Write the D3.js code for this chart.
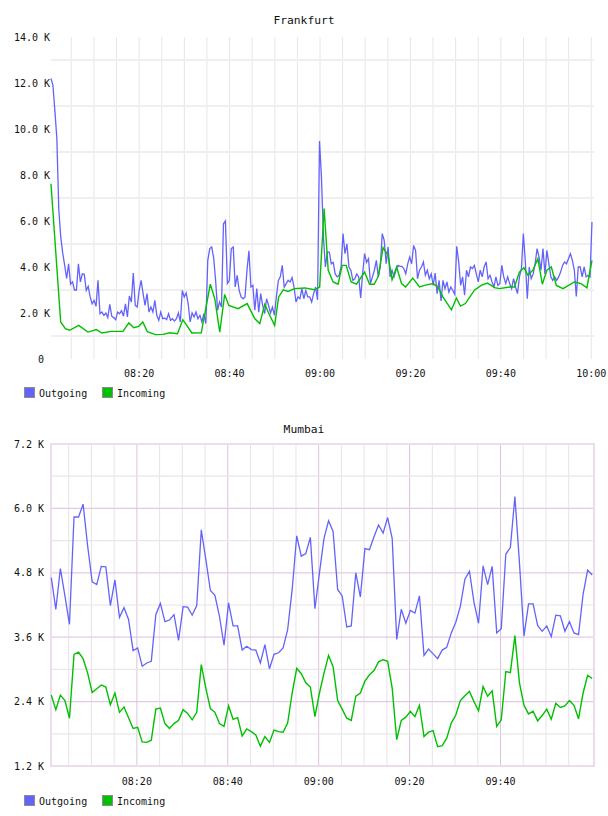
<!DOCTYPE html>
<html>
<head>
<meta charset="utf-8">
<script src="https://cdn.jsdelivr.net/npm/d3@7"></script>
<style>
  body { margin: 0; background: #fff; }
  text { font-family: "DejaVu Sans Mono", monospace; fill: #111; }
</style>
</head>
<body>
<svg id="chart" width="608" height="816"></svg>
<script>
// values in K (thousands), times in minutes after 08:00
var seriesNames = ["Outgoing", "Incoming"];

var frkOut = [12.2, 11.9, 10.8, 9.6, 6.5, 5.3, 4.6, 4.07, 3.5, 4.14,
  3.25, 3.35, 3.0, 3.0, 4.14, 3.35, 3.7, 3.68, 2.98, 3.16,
  2.7, 2.4, 2.55, 2.29, 3.42, 1.97, 2.04, 1.9, 2.0, 1.8,
  2.38, 1.86, 1.8, 1.71, 2.04, 1.97, 2.1, 1.86, 2.4, 1.83,
  2.74, 2.48, 3.74, 2.33, 2.26, 2.98, 3.42, 2.84, 2.33, 2.84,
  2.04, 2.26, 2.04, 2.55, 1.9, 1.68, 2.04, 1.75, 1.78, 1.71,
  1.97, 1.68, 1.75, 1.65, 1.75, 2.0, 1.61, 2.98, 2.7, 2.87,
  2.4, 1.61, 2.0, 1.83, 2.04, 1.75, 1.9, 1.61, 1.97, 1.54,
  4.29, 4.8, 4.87, 4.4, 3.42, 2.12, 2.48, 2.26, 5.88, 6.0,
  3.28, 3.42, 4.8, 4.87, 3.13, 3.64, 2.98, 2.7, 2.62, 2.7,
  3.86, 4.7, 3.13, 3.2, 2.12, 3.06, 2.04, 2.84, 2.33, 1.97,
  2.62, 2.33, 2.0, 2.26, 1.9, 2.7, 3.42, 3.57, 4.07, 3.13,
  3.28, 3.42, 3.35, 3.54, 3.13, 2.48, 2.7, 2.62, 3.06, 2.62,
  2.98, 2.7, 2.7, 2.48, 2.84, 3.13, 2.57,
  9.48, 7.9, 5.3, 4.0, 4.65, 4.65, 4.14, 4.2, 3.7, 3.57,
  3.64, 4.0, 5.45, 4.58, 5.0, 4.0, 3.86, 3.42, 3.49, 3.7,
  3.57, 2.65, 3.7, 4.58, 4.2, 4.36, 3.28, 3.57, 3.86, 4.29,
  3.57, 4.0, 5.45, 5.16, 4.14, 4.87, 3.57, 3.86, 3.57, 3.86,
  4.07, 4.03, 4.03, 3.93, 3.7, 4.14, 4.43, 4.14, 4.94, 4.72,
  3.49, 3.86, 4.0, 4.22, 3.64, 3.86, 3.49, 3.7, 3.2, 3.74,
  2.84, 3.42, 2.52, 3.42, 3.06, 3.35, 2.91, 3.13, 2.98, 2.81,
  4.9, 4.22, 3.2, 3.57, 2.77, 3.86, 3.57, 4.0, 3.93, 4.07,
  3.7, 3.35, 3.86, 3.57, 4.0, 4.22, 3.49, 3.64, 3.35, 3.13,
  3.57, 3.2, 3.28, 4.07, 3.57, 3.28, 3.57, 3.28, 3.06, 3.49,
  3.13, 2.84, 3.57, 3.93, 5.45, 4.22, 2.62, 4.0, 3.49, 3.7,
  4.14, 4.8, 4.43, 3.86, 4.8, 3.7, 4.72, 4.14, 3.57, 3.42,
  3.57, 3.42, 3.57, 3.78, 4.07, 4.22, 4.14, 4.36, 4.58, 4.29,
  3.86, 2.72, 4.0, 4.0, 3.57, 4.0, 3.57, 3.64, 3.57, 5.96];
var frkOutStart = 0.5, frkOutEnd = 120.15;

var frkInMinutes = [0.5, 2.65, 3.69, 4.64, 6.63, 8.67, 10.56, 11.75, 13.84, 16.43,
  17.72, 18.82, 19.91, 20.81, 21.8, 23.6, 25.29, 26.78, 28.47, 29.67,
  31.66, 33.74, 35.74, 36.73, 37.83, 38.92, 39.82, 41.9, 43.89, 45.59,
  46.68, 47.78, 48.87, 49.97, 50.86, 51.86, 52.95, 54.35, 56.63, 58.82,
  59.92, 60.91, 61.81, 62.9, 64.0, 64.9, 65.79, 66.88, 68.08, 69.87,
  70.96, 71.96, 72.86, 73.95, 75.05, 75.94, 76.94, 78.03, 78.93, 80.52,
  82.01, 83.11, 84.99, 86.09, 87.18, 89.07, 90.17, 91.06, 92.16, 94.15,
  95.64, 97.03, 98.63, 99.72, 101.91, 103.0, 104.1, 105.1, 105.99, 107.08,
  108.18, 109.17, 110.17, 111.16, 112.26, 113.75, 116.24, 117.73, 119.03, 120.15];
var frkIn = [7.62, 1.61, 1.32, 1.25, 1.46, 1.17, 1.28, 1.13, 1.2, 1.2,
  1.57, 1.36, 1.42, 1.61, 1.19, 1.06, 1.07, 1.14, 1.1, 1.71,
  1.13, 1.14, 3.25, 2.62, 1.17, 2.81, 2.33, 2.19, 2.41, 1.75,
  1.54, 2.38, 1.9, 1.46, 2.7, 3.01, 2.94, 3.06, 3.09, 3.01,
  3.13, 6.54, 3.86, 3.35, 3.25, 4.07, 4.07, 3.35, 3.25, 3.78,
  3.25, 3.25, 3.57, 4.84, 4.51, 3.45, 4.0, 3.28, 3.13, 3.52,
  3.13, 3.2, 3.28, 3.13, 2.7, 2.14, 2.65, 2.3, 2.41, 2.99,
  3.2, 3.3, 3.1, 3.06, 3.13, 3.13, 3.78, 3.97, 3.64, 3.86,
  4.36, 3.25, 3.86, 4.0, 3.2, 3.06, 3.35, 3.28, 3.1, 4.29];

// Mumbai: one sample per minute
var mumStart = 1.17;
var mumOut = [4.71, 4.12, 4.88, 4.37, 3.84, 5.84, 5.84, 6.08, 5.30, 4.63,
  4.58, 4.92, 4.91, 4.19, 4.67, 3.97, 4.15, 3.93, 3.35, 3.40,
  3.06, 3.12, 3.15, 4.02, 4.23, 3.89, 3.92, 4.02, 3.54, 4.17,
  4.16, 4.01, 4.19, 5.60, 5.05, 4.47, 4.38, 3.99, 3.45, 4.24,
  3.81, 3.81, 3.36, 3.43, 3.37, 3.36, 3.12, 3.46, 3.01, 3.28,
  3.31, 3.40, 3.74, 4.49, 5.49, 5.11, 5.16, 5.46, 4.13, 4.80,
  5.44, 5.77, 5.57, 4.49, 4.37, 3.79, 3.81, 4.80, 4.35, 5.25,
  5.23, 5.47, 5.69, 5.54, 5.83, 5.44, 3.56, 4.12, 3.86, 4.10,
  4.05, 4.37, 3.26, 3.38, 3.29, 3.20, 3.36, 3.41, 3.68, 3.88,
  4.18, 4.68, 4.83, 4.25, 3.86, 4.93, 4.58, 4.92, 3.68, 3.76,
  5.15, 5.27, 6.22, 4.99, 3.62, 4.22, 4.22, 3.82, 3.71, 3.81,
  3.61, 4.01, 4.00, 3.71, 3.89, 3.68, 3.65, 4.40, 4.85, 4.76];
var mumIn = [2.52, 2.25, 2.52, 2.42, 2.09, 3.28, 3.32, 3.20, 2.93, 2.57,
  2.64, 2.71, 2.67, 2.34, 2.56, 2.20, 2.30, 2.10, 1.90, 1.92,
  1.65, 1.64, 1.68, 2.26, 2.28, 1.99, 1.90, 1.99, 2.05, 2.25,
  2.18, 2.06, 2.20, 3.09, 2.65, 2.27, 2.20, 1.99, 1.94, 2.32,
  2.07, 2.10, 1.76, 1.89, 1.84, 1.78, 1.57, 1.75, 1.64, 1.87,
  1.84, 1.83, 2.00, 2.56, 3.02, 2.92, 2.75, 2.67, 2.12, 2.56,
  2.93, 3.26, 3.05, 2.42, 2.26, 2.09, 2.05, 2.50, 2.56, 2.78,
  2.90, 2.98, 3.14, 3.18, 3.15, 2.65, 1.69, 2.05, 2.11, 2.22,
  2.12, 2.33, 1.75, 1.83, 1.86, 1.56, 1.58, 1.72, 2.00, 2.15,
  2.42, 2.51, 2.59, 2.40, 2.23, 2.68, 2.50, 2.60, 1.94, 2.06,
  2.96, 2.94, 3.63, 2.75, 2.33, 2.17, 2.22, 2.04, 2.14, 2.26,
  2.07, 2.37, 2.29, 2.32, 2.42, 2.33, 2.08, 2.56, 2.89, 2.83];

var frkYLabels = [0, 2, 4, 6, 8, 10, 12, 14];
var frkYGrid = [1, 3, 5, 7, 9, 11, 13];
var mumYLabels = [1.2, 2.4, 3.6, 4.8, 6.0, 7.2];
var mumYMinor = [1.8, 3.0, 4.2, 5.4, 6.6];
var frkXLabels = ["08:20", "08:40", "09:00", "09:20", "09:40", "10:00"];
var mumXLabels = ["08:20", "08:40", "09:00", "09:20", "09:40"];

var colors = { out: "#6363fb", inc: "#00c000" };

var base = new Date(2020, 0, 1, 8, 0, 0);
function at(min) { return new Date(+base + min * 60000); }
function parseHM(s) { var p = s.split(":"); return at((+p[0] - 8) * 60 + +p[1]); }

var svg = d3.select("#chart");

function legend(y) {
  var lg = svg.append("g");
  var xs = [24.5, 102.5];
  [colors.out, colors.inc].forEach(function(c, i) {
    lg.append("rect").attr("x", xs[i]).attr("y", y).attr("width", 10).attr("height", 10)
      .attr("fill", c).attr("stroke", "#8c8c8c").attr("stroke-width", 1);
    lg.append("text").attr("x", xs[i] + 14.5).attr("y", y + 9)
      .attr("font-size", "10px").text(seriesNames[i]);
  });
}

function lineOf(x, y) {
  return d3.line().x(function(d) { return x(d.t); }).y(function(d) { return y(d.v); });
}

// ---------- Frankfurt ----------
(function() {
  var x = d3.scaleTime().domain([at(0), at(120)]).range([48.7, 591.3]);
  var y = d3.scaleLinear().domain([0, 14]).range([359, 37]);
  var g = svg.append("g");

  g.append("text").attr("x", 304).attr("y", 24).attr("text-anchor", "middle")
    .attr("font-size", "11.3px").text("Frankfurt");

  g.selectAll(".vgrid").data(d3.range(5, 121, 5)).enter().append("line")
    .attr("x1", function(d) { return x(at(d)); }).attr("x2", function(d) { return x(at(d)); })
    .attr("y1", y(14)).attr("y2", y(0))
    .attr("stroke", "#e6e6e6").attr("stroke-width", 1);

  g.selectAll(".hgrid").data(frkYGrid).enter().append("line")
    .attr("x1", 51).attr("x2", 594)
    .attr("y1", function(d) { return y(d); }).attr("y2", function(d) { return y(d); })
    .attr("stroke", "#efefef").attr("stroke-width", 2);

  g.selectAll(".ylab").data(frkYLabels).enter().append("text")
    .attr("x", 50).attr("y", function(d) { return y(d); }).attr("dy", "0.35em")
    .attr("text-anchor", "end").attr("font-size", "10px")
    .style("white-space", "pre")
    .text(function(d) { return d === 0 ? "0 " : d.toFixed(1) + " K"; });

  g.selectAll(".xlab").data(frkXLabels).enter().append("text")
    .attr("x", function(d) { return x(parseHM(d)); }).attr("y", 377)
    .attr("text-anchor", "middle").attr("font-size", "10px").text(function(d) { return d; });

  var step = (frkOutEnd - frkOutStart) / (frkOut.length - 1);
  var outPts = frkOut.map(function(v, i) { return { t: at(frkOutStart + i * step), v: v }; });
  var inPts = frkIn.map(function(v, i) { return { t: at(frkInMinutes[i]), v: v }; });

  g.append("path").datum(outPts).attr("d", lineOf(x, y))
    .attr("fill", "none").attr("stroke", colors.out).attr("stroke-width", 1.3);
  g.append("path").datum(inPts).attr("d", lineOf(x, y))
    .attr("fill", "none").attr("stroke", colors.inc).attr("stroke-width", 1.4);

  legend(387.5);
})();

// ---------- Mumbai ----------
(function() {
  var x = d3.scaleTime().domain([at(0), at(120)]).range([45.97, 591.4]);
  var y = d3.scaleLinear().domain([1.2, 7.2]).range([766, 444]);
  var g = svg.append("g");

  g.append("text").attr("x", 304).attr("y", 433).attr("text-anchor", "middle")
    .attr("font-size", "11.3px").text("Mumbai");

  var vmin = d3.range(5, 120, 5);
  g.selectAll(".vgrid").data(vmin).enter().append("line")
    .attr("x1", function(d) { return x(at(d)); }).attr("x2", function(d) { return x(at(d)); })
    .attr("y1", 444).attr("y2", 766)
    .attr("stroke", function(d) { return d % 20 === 0 ? "#dcc3dc" : "#e9e2e9"; })
    .attr("stroke-width", 1);

  g.selectAll(".hminor").data(mumYMinor).enter().append("line")
    .attr("x1", 51).attr("x2", 594)
    .attr("y1", function(d) { return y(d); }).attr("y2", function(d) { return y(d); })
    .attr("stroke", "#e8e6e8").attr("stroke-width", 1.2);

  g.selectAll(".hmajor").data(mumYLabels.slice(1, -1)).enter().append("line")
    .attr("x1", 51).attr("x2", 594)
    .attr("y1", function(d) { return y(d); }).attr("y2", function(d) { return y(d); })
    .attr("stroke", "#e2cbe2").attr("stroke-width", 1.2);

  g.append("rect").attr("x", 51).attr("y", 444).attr("width", 543).attr("height", 322)
    .attr("fill", "none").attr("stroke", "#ecdcec").attr("stroke-width", 2);

  g.selectAll(".ylab").data(mumYLabels).enter().append("text")
    .attr("x", 44).attr("y", function(d) { return y(d); }).attr("dy", "0.35em")
    .attr("text-anchor", "end").attr("font-size", "10px")
    .text(function(d) { return d.toFixed(1) + " K"; });

  g.selectAll(".xlab").data(mumXLabels).enter().append("text")
    .attr("x", function(d) { return x(parseHM(d)); }).attr("y", 785)
    .attr("text-anchor", "middle").attr("font-size", "10px").text(function(d) { return d; });

  var outPts = mumOut.map(function(v, i) { return { t: at(mumStart + i), v: v }; });
  var inPts = mumIn.map(function(v, i) { return { t: at(mumStart + i), v: v }; });

  g.append("path").datum(outPts).attr("d", lineOf(x, y))
    .attr("fill", "none").attr("stroke", colors.out).attr("stroke-width", 1.3);
  g.append("path").datum(inPts).attr("d", lineOf(x, y))
    .attr("fill", "none").attr("stroke", colors.inc).attr("stroke-width", 1.4);

  legend(795.5);
})();
</script>
</body>
</html>
